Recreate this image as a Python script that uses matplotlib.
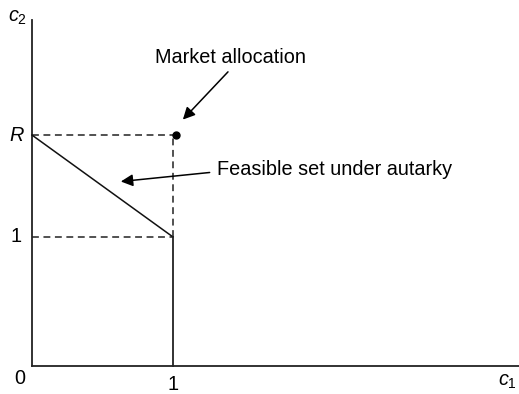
import matplotlib
matplotlib.use('Agg')
import matplotlib.pyplot as plt

plt.rcParams['font.family'] = ['Liberation Sans', 'DejaVu Sans']
plt.rcParams['mathtext.fontset'] = 'custom'
plt.rcParams['mathtext.it'] = 'Liberation Sans:italic'
plt.rcParams['mathtext.rm'] = 'Liberation Sans'

# values in the diagram
R = 1.79
endowment = (1.0, 1.0)
market_point = (1.02, R)
x_ticks = [0, 1]
y_ticks = [1, R]
y_tick_labels = ['1', '$R$']

fig = plt.figure(figsize=(5.19, 3.94), dpi=100)
ax = fig.add_axes([0, 0, 1, 1])
ax.set_xlim(-0.227, 3.454)
ax.set_ylim(-0.217, 2.837)
ax.axis('off')

# axes
ax.plot([0, 3.454], [0, 0], color='#222222', lw=1.3)
ax.plot([0, 0], [0, 2.68], color='#222222', lw=1.3)

# dashed guides
dash = dict(color='#222222', lw=1.1, ls=(0, (4.5, 3)))
ax.plot([0, endowment[0]], [R, R], **dash)
ax.plot([0, endowment[0]], [endowment[1], endowment[1]], **dash)
ax.plot([endowment[0], endowment[0]], [endowment[1], R], **dash)

# feasible set under autarky
ax.plot([0, endowment[0]], [R, endowment[1]], color='#111111', lw=1.1)
ax.plot([endowment[0], endowment[0]], [0, endowment[1]], color='#222222', lw=1.3)

# market allocation
ax.plot(*market_point, 'o', color='black', ms=5)

fs = 14.3
ax.annotate('', xy=(1.07, 1.91), xytext=(1.39, 2.28),
            arrowprops=dict(arrowstyle='-|>', color='black', lw=1.1,
                            mutation_scale=18, shrinkA=0, shrinkB=0))
ax.text(1.41, 2.39, 'Market allocation', fontsize=fs, ha='center', va='center')

ax.annotate('', xy=(0.63, 1.43), xytext=(1.26, 1.50),
            arrowprops=dict(arrowstyle='-|>', color='black', lw=1.1,
                            mutation_scale=18, shrinkA=0, shrinkB=0))
ax.text(1.31, 1.52, 'Feasible set under autarky', fontsize=fs, ha='left', va='center')

# tick labels
ax.text(-0.09, -0.10, '0', fontsize=fs, ha='center', va='center')
ax.text(x_ticks[1], -0.14, '1', fontsize=fs, ha='center', va='center')
for v, lab in zip(y_ticks, y_tick_labels):
    ax.text(-0.11, v, lab, fontsize=fs, ha='center', va='center')

ax.text(3.37, -0.12, '$c_1$', fontsize=fs, ha='center', va='center')
ax.text(-0.10, 2.70, '$c_2$', fontsize=fs, ha='center', va='center')

fig.savefig('out.png', dpi=100)
